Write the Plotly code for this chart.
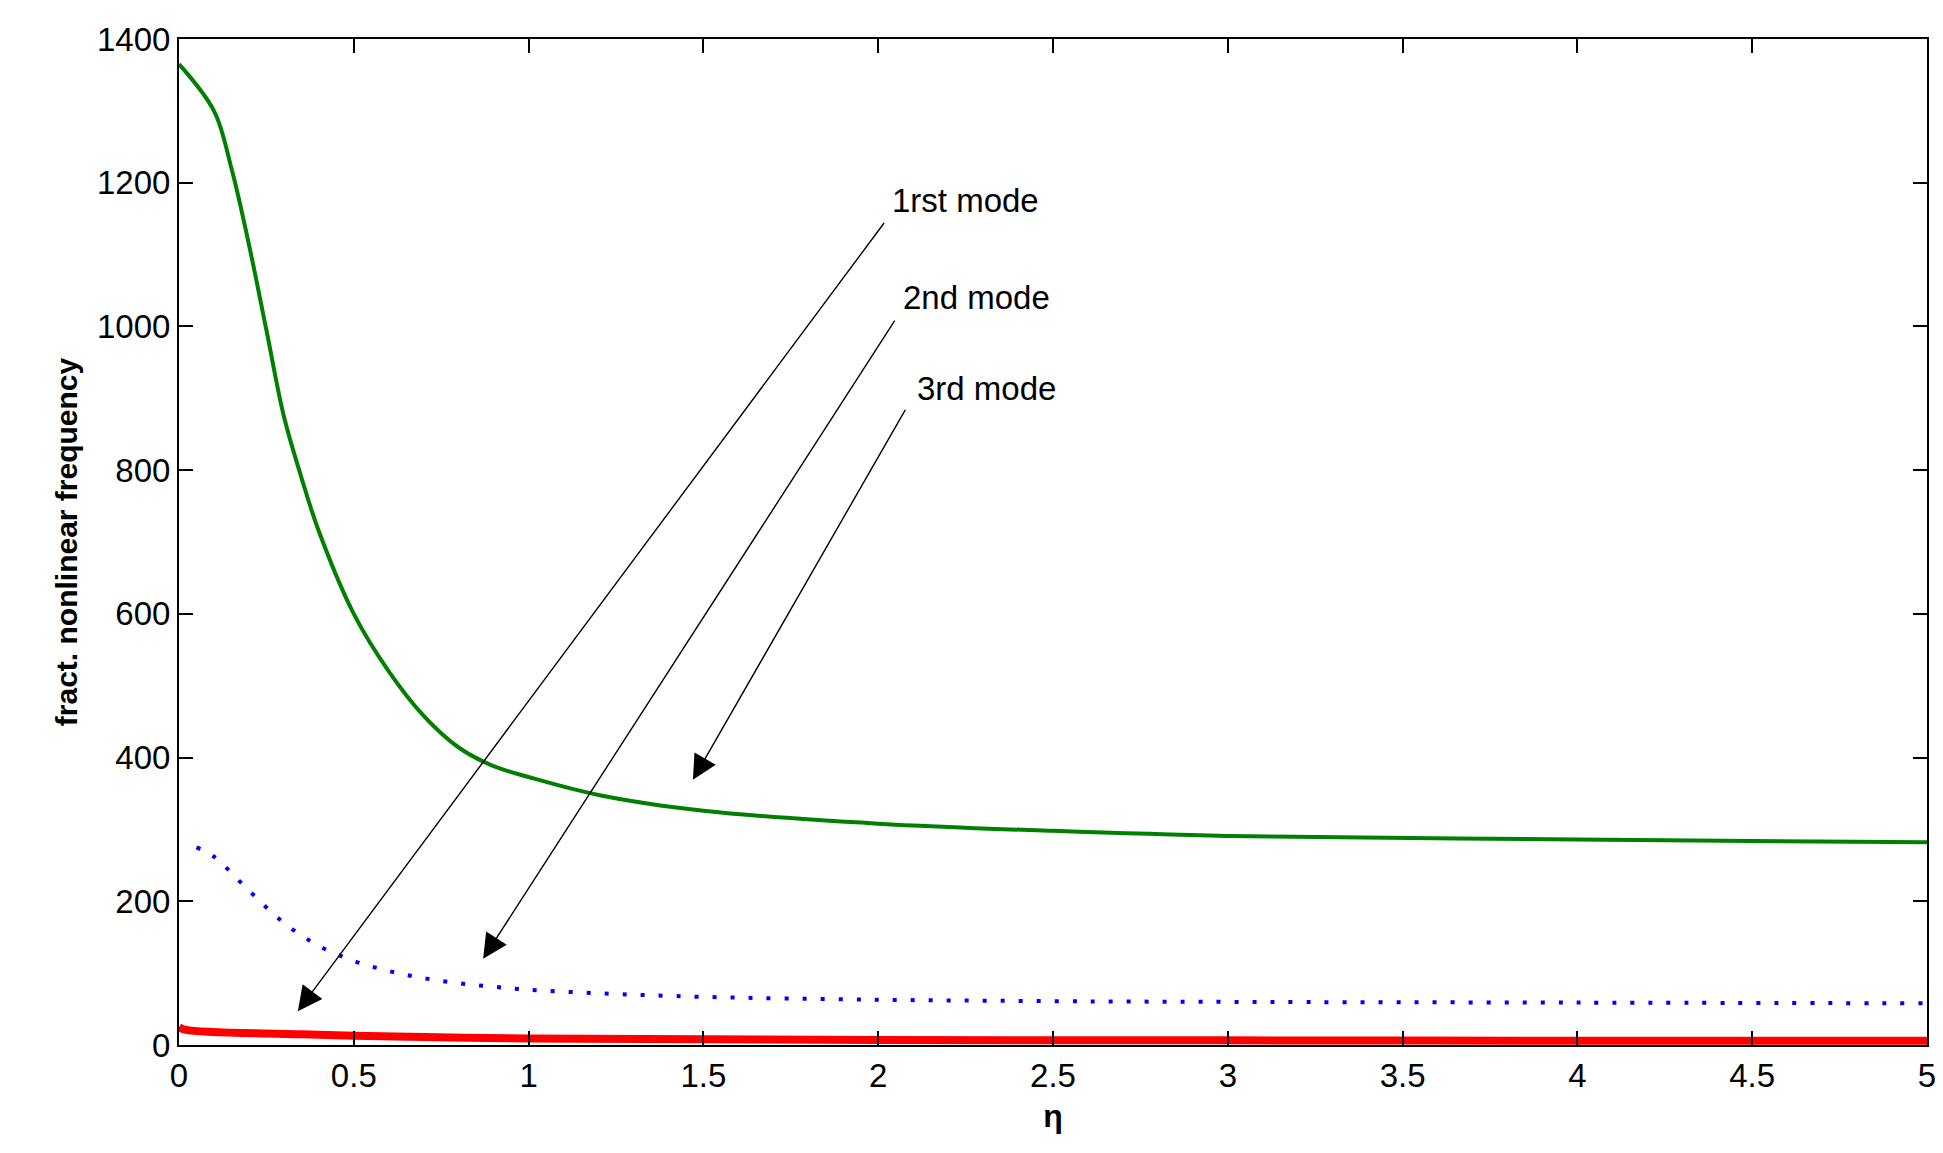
import plotly.graph_objects as go

eta_green = [0, 0.1, 0.15, 0.2, 0.25, 0.3, 0.35, 0.4, 0.5, 0.6, 0.7, 0.8, 0.9, 1.0, 1.2, 1.5, 2.0, 2.5, 3.0, 4.0, 5.0]
mode1 = [1365, 1300, 1220, 1114, 995, 875, 790, 715, 600, 520, 458, 414, 388, 373, 348, 326, 308, 298, 291, 286, 282]

eta_blue = [0.05, 0.1, 0.2, 0.3, 0.4, 0.5, 0.6, 0.7, 0.8, 0.9, 1.0, 1.2, 1.5, 2.0, 2.5, 3.0, 4.0, 5.0]
mode2 = [275, 262, 215, 170, 138, 117, 103, 93, 86, 81, 77, 72, 67, 63, 61, 60, 59, 58]

eta_red = [0, 0.02, 0.35, 0.7, 1.0, 1.5, 2.0, 3.0, 4.0, 5.0]
mode3 = [25, 21, 15, 11, 9, 8, 7, 6.5, 6, 6]

labels = ["1rst mode", "2nd mode", "3rd mode"]
label_pos = [(2.25, 1175), (2.28, 1040), (2.31, 913)]
arrow_tail = [(2.02, 1146), (2.05, 1010), (2.08, 886)]
arrow_head = [(0.34, 47), (0.87, 120), (1.47, 369)]

fig = go.Figure()
fig.add_trace(go.Scatter(x=eta_green, y=mode1, mode="lines", line=dict(color="#007f00", width=4, shape="spline")))
fig.add_trace(go.Scatter(x=eta_blue, y=mode2, mode="lines", line=dict(color="#0000ff", width=4, dash="4px,14px", shape="spline")))
fig.add_trace(go.Scatter(x=eta_red, y=mode3, mode="lines", line=dict(color="#ff0000", width=8, shape="spline")))

for lab, (lx, ly), (tx, ty), (hx, hy) in zip(labels, label_pos, arrow_tail, arrow_head):
    fig.add_annotation(x=lx, y=ly, text=lab, showarrow=False,
                       font=dict(size=33, color="black"))
    fig.add_annotation(x=hx, y=hy, ax=tx, ay=ty, axref="x", ayref="y", text="",
                       showarrow=True, arrowhead=2, arrowsize=3.5, arrowwidth=1.4, arrowcolor="black")

axis_common = dict(showgrid=False, zeroline=False, showline=True, linecolor="black", linewidth=2,
                   mirror="ticks", ticks="inside", ticklen=14, tickwidth=2, tickcolor="black",
                   tickfont=dict(size=33, color="black"))
fig.update_layout(
    width=1943, height=1153,
    margin=dict(l=171, r=24, t=31, b=116),
    paper_bgcolor="white", plot_bgcolor="white",
    showlegend=False,
    font=dict(family="Liberation Sans, Arial, sans-serif", color="black"),
    xaxis=dict(range=[0, 5], dtick=0.5, title=dict(text="<b>η</b>", font=dict(size=32), standoff=12), **axis_common),
    yaxis=dict(range=[0, 1400], dtick=200, title=dict(text="<b>fract. nonlinear frequency</b>", font=dict(size=30), standoff=10), **axis_common),
)

fig.write_html("out.html")
